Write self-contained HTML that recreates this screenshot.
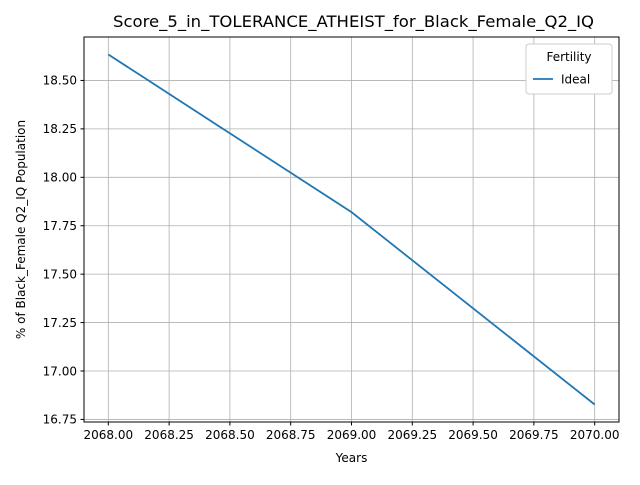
<!DOCTYPE html>
<html><head><meta charset="utf-8"><style>
body{margin:0;background:#fff;font-family:"Liberation Sans","DejaVu Sans",sans-serif}
</style></head><body>
<svg width="640" height="480" xmlns="http://www.w3.org/2000/svg" font-family="DejaVu Sans, Liberation Sans, sans-serif">
<g id="grid"></g>
<g id="ticks"></g>
<rect x="84" y="37" width="535" height="385" fill="none" stroke="#000" stroke-width="1"/>
<polyline id="line" fill="none" stroke="#1f77b4" stroke-width="1.8"/>
<text x="353.5" y="27" font-size="16" text-anchor="middle" textLength="481" lengthAdjust="spacingAndGlyphs">Score_5_in_TOLERANCE_ATHEIST_for_Black_Female_Q2_IQ</text>
<text x="351.5" y="462" font-size="12" text-anchor="middle">Years</text>
<text x="0" y="0" font-size="12" text-anchor="middle" transform="translate(25,229.5) rotate(-90)">% of Black_Female Q2_IQ Population</text>
<g>
<rect x="526" y="44" width="86" height="50" rx="3" fill="#fff" stroke="#ccc"/>
<text x="569" y="61" font-size="12" text-anchor="middle">Fertility</text>
<line x1="533" y1="79" x2="553" y2="79" stroke="#1f77b4" stroke-width="1.8"/>
<text x="561" y="83.5" font-size="12">Ideal</text>
</g>
</svg>
<script>
const years=[2068,2069,2070];
const values=[18.634,17.82,16.827];
const xTicks=[2068.00,2068.25,2068.50,2068.75,2069.00,2069.25,2069.50,2069.75,2070.00];
const yTicks=[16.75,17.00,17.25,17.50,17.75,18.00,18.25,18.50];
const L=84,R=619,T=37,B=422;
const xmin=2067.9,xmax=2070.1;
const ymin=16.7367,ymax=18.7243;
const X=v=>L+(v-xmin)/(xmax-xmin)*(R-L);
const Y=v=>B-(v-ymin)/(ymax-ymin)*(B-T);
const ns="http://www.w3.org/2000/svg";
const grid=document.getElementById('grid'),ticks=document.getElementById('ticks');
function mk(tag,attrs,parent){const e=document.createElementNS(ns,tag);for(const k in attrs)e.setAttribute(k,attrs[k]);parent.appendChild(e);return e;}
xTicks.forEach(t=>{const x=X(t);
const g=mk('line',{x1:x,x2:x,y1:T,y2:B,stroke:'#b0b0b0','stroke-width':0.8},grid);


const tk=mk('line',{x1:x,x2:x,y1:B,y2:B+3.5,stroke:'#000'},ticks);


const tx=mk('text',{x:x,y:B+17,'font-size':12,'text-anchor':'middle'},ticks);tx.textContent=t.toFixed(2);

});
yTicks.forEach(t=>{const y=Y(t);
const g=mk('line',{x1:L,x2:R,y1:y,y2:y,stroke:'#b0b0b0','stroke-width':0.8},grid);


const tk=mk('line',{x1:L-3.5,x2:L,y1:y,y2:y,stroke:'#000'},ticks);


const tx=mk('text',{x:L-7,y:y+4.3,'font-size':12,'text-anchor':'end'},ticks);tx.textContent=t.toFixed(2);

});
document.getElementById('line').setAttribute('points',years.map((y,i)=>X(y)+','+Y(values[i])).join(' '));
</script>
</body></html>
